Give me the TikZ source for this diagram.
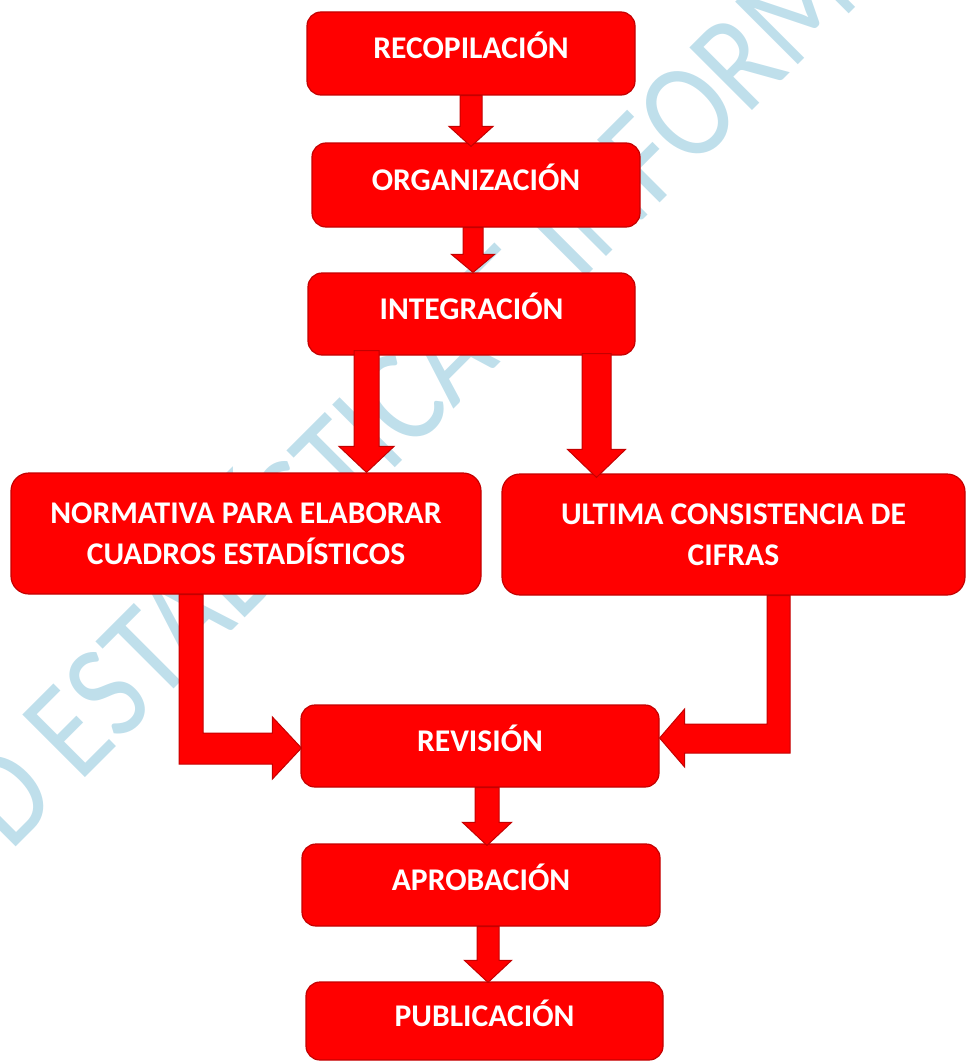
\documentclass[tikz,border=0pt]{standalone}
\usepackage{fontspec}
\setmainfont{Carlito}
\usetikzlibrary{calc}
\definecolor{boxred}{RGB}{255,0,0}
\definecolor{boxedge}{RGB}{196,0,0}
\definecolor{wmblue}{RGB}{191,223,235}
\tikzset{
  box/.style={rectangle, rounded corners=14pt, fill=boxred, draw=boxedge, line width=1.2pt,
    text=white, font=\bfseries\fontsize{31.6}{41}\selectfont, inner sep=0pt, align=center},
  oneline/.style={text height=20pt, text depth=10pt},
  barrow/.style={fill=boxred, draw=boxedge, line width=1pt, line join=miter},
  wm/.style={text=wmblue, font=\fontsize{138}{138}\selectfont, inner sep=0pt}
}
\newcommand\vblockarrow[5]{%
  \draw[barrow] ($(#1)+(-#3,0)$) -- ($(#2)+(-#3,-#5)$) -- ($(#2)+(-#4,-#5)$) -- (#2)
    -- ($(#2)+(#4,-#5)$) -- ($(#2)+(#3,-#5)$) -- ($(#1)+(#3,0)$) -- cycle;}
\begin{document}
\begin{tikzpicture}[x=1pt,y=-1pt]
\useasboundingbox (0,0) rectangle (966,1062);
% watermark
\begin{scope}
  \clip (0,0) rectangle (966,1062);
  \node[wm, anchor=base west, rotate=45] (wmark) at (10,853) {\scalebox{0.85}[1]{D ESTADÍSTICA E INFORM}};
\end{scope}
% boxes
\node[box, oneline, minimum width=328pt, minimum height=83pt] (rec) at (471,53.5) {RECOPILACIÓN};
\node[box, oneline, minimum width=328pt, minimum height=84pt] (org) at (476,185) {ORGANIZACIÓN};
\node[box, oneline, minimum width=327pt, minimum height=82pt] (int) at (471.5,314) {INTEGRACIÓN};
\node[box, rounded corners=18pt, minimum width=470pt, minimum height=121pt] (nor) at (246,533.5) {NORMATIVA PARA ELABORAR\\CUADROS ESTADÍSTICOS};
\node[box, rounded corners=18pt, minimum width=463pt, minimum height=121pt] (ult) at (733.5,534.5) {ULTIMA CONSISTENCIA DE\\CIFRAS};
\node[box, oneline, minimum width=358pt, minimum height=82pt] (rev) at (480,746) {REVISIÓN};
\node[box, oneline, minimum width=358pt, minimum height=82pt] (apr) at (481,885) {APROBACIÓN};
\node[box, oneline, minimum width=357pt, minimum height=78pt] (pub) at (484.5,1021) {PUBLICACIÓN};
% straight arrows
\coordinate (a1s) at (rec.south);
\coordinate (a1t) at ($(a1s |- org.north)+(0,4)$);
\vblockarrow{a1s}{a1t}{11}{22}{20}
\coordinate (a2s) at ($(org.south)+(-3,0)$);
\coordinate (a2t) at (a2s |- int.north);
\vblockarrow{a2s}{a2t}{10}{21.5}{18}
\coordinate (lbs) at ($(int.south)+(-105,-5)$);
\coordinate (lbt) at (lbs |- nor.north);
\vblockarrow{lbs}{lbt}{12.5}{27.5}{26}
\coordinate (rbs) at ($(int.south)+(125,-2)$);
\coordinate (rbt) at ($(rbs |- ult.north)+(0,4)$);
\vblockarrow{rbs}{rbt}{14.5}{29}{28}
\coordinate (a3s) at ($(rev.south)+(7,0)$);
\coordinate (a3t) at ($(a3s |- apr.north)+(0,2)$);
\vblockarrow{a3s}{a3t}{12}{24.5}{23}
\coordinate (a4s) at ($(apr.south)+(7,0)$);
\coordinate (a4t) at ($(a4s |- pub.north)+(0,1)$);
\vblockarrow{a4s}{a4t}{11}{23.5}{22}
% bent arrows
\coordinate (ls) at ($(nor.south)+(-55,0)$);
\coordinate (lt) at ($(rev.west)+(1,2)$);
\draw[barrow] ($(ls)+(-12,0)$) -- ($(ls)+(12,0)$) -- ($(ls |- lt)+(12,-15)$) -- ($(lt)+(-29,-15)$)
  -- ($(lt)+(-29,-31)$) -- (lt) -- ($(lt)+(-29,31)$) -- ($(lt)+(-29,16)$) -- ($(ls |- lt)+(-12,16)$) -- cycle;
\coordinate (rs) at ($(ult.south)+(45,0)$);
\coordinate (rt) at ($(rev.east)+(0,-8)$);
\draw[barrow] ($(rs)+(11.5,0)$) -- ($(rs)+(-11.5,0)$) -- ($(rs |- rt)+(-11.5,-14)$) -- ($(rt)+(25,-14)$)
  -- ($(rt)+(25,-29)$) -- (rt) -- ($(rt)+(25,29)$) -- ($(rt)+(25,15)$) -- ($(rs |- rt)+(11.5,15)$) -- cycle;
\end{tikzpicture}
\end{document}
